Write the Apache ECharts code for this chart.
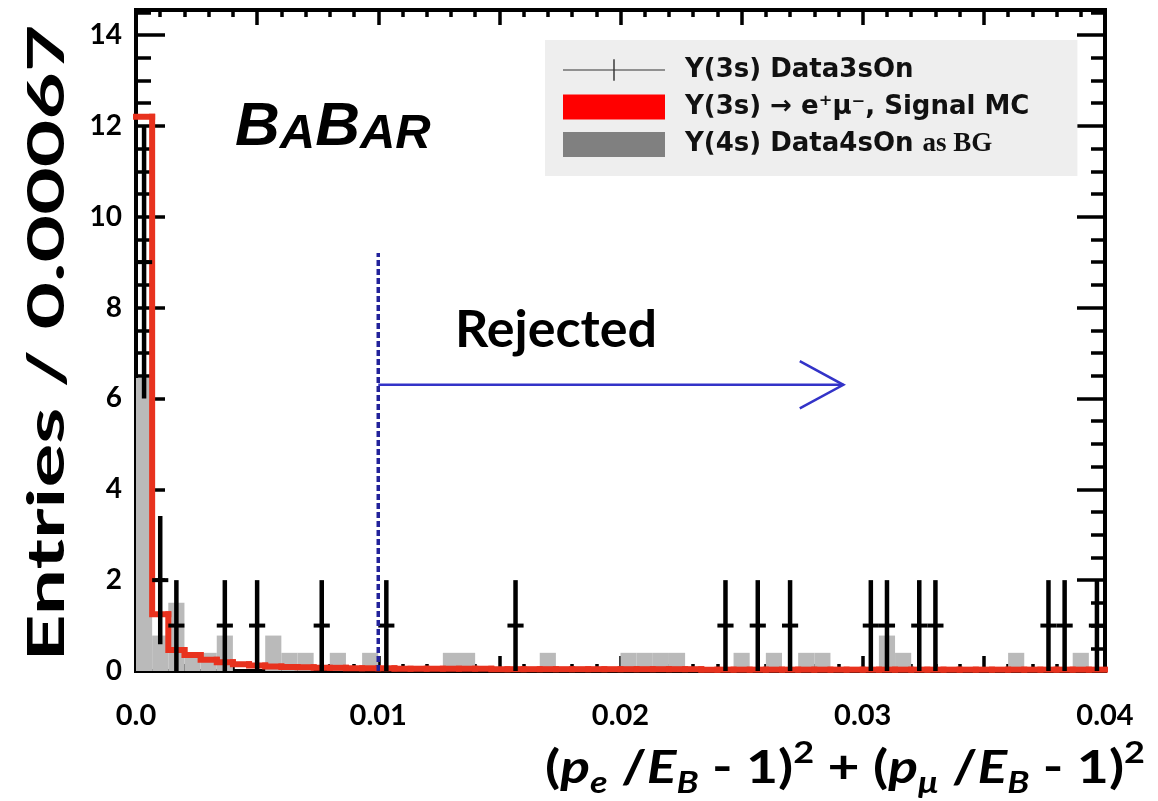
<!DOCTYPE html>
<html>
<head>
<meta charset="utf-8">
<script src="https://cdn.jsdelivr.net/npm/echarts@6/dist/echarts.min.js"></script>
<style>html,body{margin:0;padding:0;background:#fff}#c{width:1158px;height:801px}</style>
</head>
<body>
<div id="c"></div>
<script>
// ---------------- data ----------------
const X_MIN = 0, X_MAX = 0.04, N_BINS = 60;
const BIN_W = (X_MAX - X_MIN) / N_BINS;           // ~0.00067
const Y_MIN = 0, Y_MAX = 14.55;
const xTickLabels = ['0.0', '0.01', '0.02', '0.03', '0.04'];
const yTickLabels = ['0', '2', '4', '6', '8', '10', '12', '14'];

// Y(3s) Data3sOn : occupied bins, counts and error bar half-lengths
const dataBins   = [0, 1, 2, 5, 7, 11, 15, 23, 36, 38, 40, 45, 46, 48, 49, 56, 57, 59];
const dataCounts = [9, 2, 1, 1, 1, 1, 1, 1, 1, 1, 1, 1, 1, 1, 1, 1, 1, 1];
const dataErrors = [3, 1.41, 1, 1, 1, 1, 1, 1, 1, 1, 1, 1, 1, 1, 1, 1, 1, 1];

// Y(3s) -> e+mu-, Signal MC (per bin)
const signalMC = [12.2, 1.25, 0.46, 0.35, 0.25, 0.19, 0.15, 0.12, 0.10, 0.09,
                  0.08, 0.07, 0.07, 0.06, 0.06, 0.06, 0.05, 0.05, 0.05, 0.05,
                  0.05, 0.05, 0.04, 0.04, 0.04, 0.04, 0.04, 0.04, 0.04, 0.04,
                  0.04, 0.04, 0.04, 0.04, 0.04, 0.03, 0.03, 0.03, 0.03, 0.03,
                  0.03, 0.03, 0.03, 0.03, 0.03, 0.03, 0.03, 0.03, 0.03, 0.03,
                  0.03, 0.03, 0.03, 0.03, 0.03, 0.03, 0.03, 0.03, 0.03, 0.03];

// Y(4s) Data4sOn as BG (per bin)
const bgData4s = [6.45, 0.78, 1.5, 0.4, 0.4, 0.78, 0, 0, 0.78, 0.4,
                  0.4, 0, 0.4, 0, 0.4, 0, 0, 0, 0, 0.4,
                  0.4, 0, 0, 0, 0, 0.4, 0, 0, 0, 0,
                  0.4, 0.4, 0.4, 0.4, 0, 0, 0, 0.4, 0, 0.4,
                  0, 0.4, 0.4, 0, 0, 0, 0.78, 0.4, 0, 0,
                  0, 0, 0, 0, 0.4, 0, 0, 0, 0.4, 0];

// annotation: selection cut and "Rejected" arrow (data coordinates)
const cutX = 0.01, cutTop = 9.2;
const arrowY = 6.3, arrowTipX = 0.0292, arrowHeadX = 0.0274, arrowHeadHalf = 0.52;

const NAME_DATA = 'Y(3s) Data3sOn';
const NAME_MC   = 'Y(3s) \u2192 e\u207A\u03BC\u207B, Signal MC';
const NAME_BG   = 'Y(4s) Data4sOn as BG';

// ---------------- helpers ----------------
const mctx = document.createElement('canvas').getContext('2d');
function textW(str, font) { mctx.font = font; return mctx.measureText(str).width; }

const chart = echarts.init(document.getElementById('c'), null, { renderer: 'canvas' });

const tickStyle = { color: '#000', width: 3.5 };
const lineStyleAx = { color: '#000', width: 4, cap: 'square' };

function xAxisDef(pos, labels) {
  return {
    type: 'value', position: pos, min: X_MIN, max: X_MAX, interval: 0.005,
    axisLine: { show: true, onZero: false, lineStyle: lineStyleAx },
    axisTick: { show: true, inside: true, length: 15, lineStyle: tickStyle },
    minorTick: { show: true, splitNumber: 5, length: 7, lineStyle: tickStyle },
    splitLine: { show: false }, minorSplitLine: { show: false },
    axisLabel: labels ? {
      show: true, margin: 30, fontFamily: 'Lato', fontWeight: 'bold', fontSize: 29, color: '#000',
      formatter: v => { const k = Math.round(v / 0.01); return Math.abs(v - k * 0.01) < 1e-9 ? xTickLabels[k] : ''; }
    } : { show: false }
  };
}
function yAxisDef(pos, interval, len, labels, showLine) {
  return {
    type: 'value', position: pos, min: Y_MIN, max: Y_MAX, interval: interval,
    axisLine: { show: showLine, onZero: false, lineStyle: lineStyleAx },
    axisTick: { show: true, inside: true, length: len, lineStyle: tickStyle },
    splitLine: { show: false },
    axisLabel: labels ? {
      show: true, margin: 14, fontFamily: 'Lato', fontWeight: 'bold', fontSize: 28, color: '#000',
      showMaxLabel: false,
      formatter: v => {
        if (Math.abs(v - Math.round(v)) > 1e-9) return '';
        const k = Math.round(v) / 2;
        return Number.isInteger(k) ? yTickLabels[k] : '';
      }
    } : { show: false }
  };
}

// Title texts
const yTitle = 'Entries / 0.00067';
const yTitleFont = 'bold 52px Lato';
const yTitleScale = 637 / textW(yTitle, yTitleFont);

const rejText = 'Rejected';
const rejSize = 50 * 202 / textW(rejText, 'bold 50px Lato');

const xParts = [['n', '('], ['i', 'p'], ['s', 'e'], ['n', ' /'], ['i', 'E'], ['s', 'B'], ['n', ' - 1)'], ['u', '2'],
                ['n', ' + ('], ['i', 'p'], ['s', '\u03BC'], ['n', ' /'], ['i', 'E'], ['s', 'B'], ['n', ' - 1)'], ['u', '2']];
const xFonts = { n: 'bold 46px Lato', i: 'italic bold 46px Lato', s: 'italic bold 30px Lato', u: 'bold 30px Lato' };
let xNat = 0; xParts.forEach(p => { xNat += textW(p[1], xFonts[p[0]]); });
const xTitleScale = 600 / xNat;
const xTitleRich = xParts.map(p => '{' + p[0] + '|' + p[1] + '}').join('');

const option = {
  animation: false,
  backgroundColor: '#ffffff',
  grid: { left: 136, right: 53, top: 10, bottom: 130, containLabel: false, outerBoundsMode: 'none' },
  xAxis: [xAxisDef('bottom', true), xAxisDef('top', false)],
  yAxis: [
    yAxisDef('left', 2, 29, true, true),
    yAxisDef('left', 0.5, 15, false, false),
    yAxisDef('right', 2, 28, false, true),
    yAxisDef('right', 0.5, 14, false, false)
  ],
  legend: {
    left: 545, top: 40, orient: 'vertical', selectedMode: false,
    backgroundColor: '#eeeeee', borderWidth: 0,
    padding: [17, 48, 18, 18],
    itemWidth: 102, itemHeight: 25, itemGap: 11,
    textStyle: {
      fontFamily: 'DejaVu Sans', fontWeight: 'bold', fontSize: 26, color: '#111',
      padding: [0, 0, 0, 15],
      rich: { t: { fontFamily: 'Liberation Serif', fontWeight: 'bold', fontSize: 27, color: '#111' } }
    },
    formatter: name => name === NAME_BG ? 'Y(4s) Data4sOn {t|as BG}' : name,
    data: [
      { name: NAME_DATA, icon: 'path://M0,11.4H100V12.6H0Z M49.3,1.5H50.7V22.5H49.3Z', itemStyle: { color: '#333333' } },
      { name: NAME_MC, icon: 'rect', itemStyle: { color: '#ff0000' } },
      { name: NAME_BG, icon: 'rect', itemStyle: { color: '#808080' } }
    ]
  },
  series: [
    {
      name: NAME_BG, type: 'custom', z: 2, silent: true,
      itemStyle: { color: '#bababa' },
      encode: { x: [0, 1], y: 2 },
      data: bgData4s.map((v, i) => [X_MIN + i * BIN_W, X_MIN + (i + 1) * BIN_W, v]),
      renderItem: (params, api) => {
        const v = api.value(2);
        if (!v) return null;
        const p0 = api.coord([api.value(0), v]);
        const p1 = api.coord([api.value(1), 0]);
        return { type: 'rect', shape: { x: p0[0], y: p0[1], width: p1[0] - p0[0], height: p1[1] - p0[1] },
                 style: { fill: '#bababa' } };
      }
    },
    {
      name: NAME_MC, type: 'custom', z: 3, silent: true,
      itemStyle: { color: '#e8321e' },
      encode: { x: [0, 1], y: 2 },
      data: signalMC.map((v, i) => [X_MIN + i * BIN_W, X_MIN + (i + 1) * BIN_W, v, i > 0 ? signalMC[i - 1] : v]),
      renderItem: (params, api) => {
        const lo = api.value(0), hi = api.value(1), v = api.value(2), prev = api.value(3);
        const a = api.coord([lo, prev]), b = api.coord([lo, v]), c = api.coord([hi, v]);
        return { type: 'polyline', shape: { points: [a, b, c] },
                 style: { stroke: '#e8321e', lineWidth: 6, fill: null, lineJoin: 'miter', lineCap: 'square' } };
      }
    },
    {
      name: NAME_DATA, type: 'custom', z: 5, silent: true,
      itemStyle: { color: '#000000' },
      encode: { x: 0, y: 1 },
      data: dataBins.map((b, i) => [X_MIN + (b + 0.5) * BIN_W, dataCounts[i], dataErrors[i], X_MIN + b * BIN_W, X_MIN + (b + 1) * BIN_W]),
      renderItem: (params, api) => {
        const x = api.value(0), n = api.value(1), e = api.value(2), lo = api.value(3), hi = api.value(4);
        const top = api.coord([x, n + e]), bot = api.coord([x, Math.max(0, n - e)]);
        const l = api.coord([lo, n]), r = api.coord([hi, n]);
        return { type: 'group', children: [
          { type: 'line', shape: { x1: top[0], y1: top[1], x2: bot[0], y2: bot[1] }, style: { stroke: '#000', lineWidth: 4.5 } },
          { type: 'line', shape: { x1: l[0], y1: l[1], x2: r[0], y2: r[1] }, style: { stroke: '#000', lineWidth: 4 } }
        ] };
      }
    },
    {
      name: 'cut', type: 'line', z: 6, silent: true, symbol: 'none',
      data: [[cutX, 0], [cutX, cutTop]],
      lineStyle: { color: '#22229a', width: 3.5, type: [6, 3] }
    },
    {
      name: 'arrow', type: 'line', z: 6, silent: true, symbol: 'none',
      data: [[cutX, arrowY], [arrowTipX, arrowY]],
      lineStyle: { color: '#3333c8', width: 2.5 }
    },
    {
      name: 'arrowHead', type: 'line', z: 6, silent: true, symbol: 'none',
      data: [[arrowHeadX, arrowY + arrowHeadHalf], [arrowTipX, arrowY], [arrowHeadX, arrowY - arrowHeadHalf]],
      lineStyle: { color: '#3333c8', width: 2.5, join: 'miter' }
    }
  ],
  graphic: [
    {
      type: 'text', x: 235, y: 128, z: 10,
      style: {
        text: '{b|B}{s|A}{b|B}{s|AR}', align: 'left', verticalAlign: 'middle', fill: '#000',
        rich: {
          b: { fontFamily: 'Liberation Sans', fontStyle: 'italic', fontWeight: 'bold', fontSize: 62, lineHeight: 62, verticalAlign: 'bottom', fill: '#000' },
          s: { fontFamily: 'Liberation Sans', fontStyle: 'italic', fontWeight: 'bold', fontSize: 49, lineHeight: 53, verticalAlign: 'bottom', fill: '#000' }
        }
      }
    },
    {
      type: 'text', x: 455, y: 330, z: 10,
      style: { text: rejText, fontFamily: 'Lato', fontWeight: 'bold', fontSize: rejSize, fill: '#000', align: 'left', verticalAlign: 'middle' }
    },
    {
      type: 'text', x: 47, y: 343, z: 10, rotation: Math.PI / 2, scaleX: yTitleScale,
      style: { text: yTitle, fontFamily: 'Lato', fontWeight: 'bold', fontSize: 52, fill: '#000', align: 'center', verticalAlign: 'middle' }
    },
    {
      type: 'text', x: 545, y: 768, z: 10, scaleX: xTitleScale,
      style: {
        text: xTitleRich, align: 'left', verticalAlign: 'middle', fill: '#000',
        rich: {
          n: { fontFamily: 'Lato', fontWeight: 'bold', fontSize: 46, lineHeight: 60, fill: '#000' },
          i: { fontFamily: 'Lato', fontWeight: 'bold', fontStyle: 'italic', fontSize: 46, lineHeight: 60, fill: '#000' },
          s: { fontFamily: 'Lato', fontWeight: 'bold', fontStyle: 'italic', fontSize: 30, lineHeight: 20, verticalAlign: 'bottom', fill: '#000' },
          u: { fontFamily: 'Lato', fontWeight: 'bold', fontSize: 30, lineHeight: 34, verticalAlign: 'top', fill: '#000' }
        }
      }
    }
  ]
};
chart.setOption(option);
</script>
</body>
</html>
